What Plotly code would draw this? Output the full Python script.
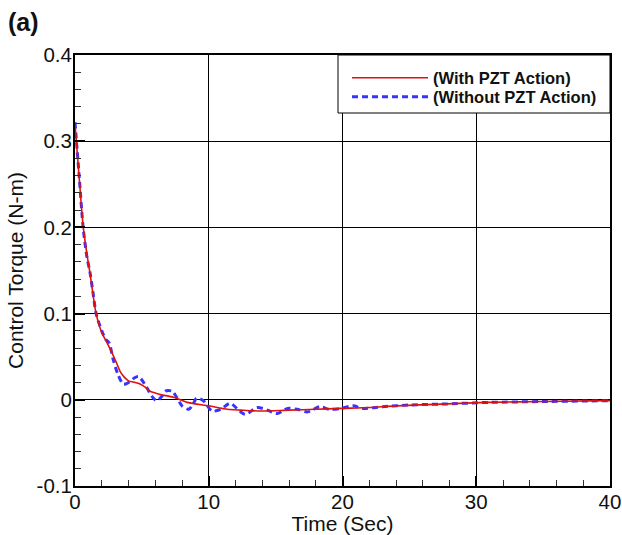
import plotly.graph_objects as go

# ---- data ----
t_with = [0, 0.3, 0.62, 0.9, 1.12, 1.35, 1.58, 2.0, 2.4, 2.75, 3.1, 3.4, 3.7, 4.0, 4.5, 4.9,
          5.3, 5.6, 6.0, 6.4, 7.35, 8.4, 10, 11.4, 12.4, 13.9, 16, 18, 19.9, 22, 24, 27.4,
          30.9, 35, 40]
v_with = [0.320, 0.260, 0.200, 0.168, 0.147, 0.122, 0.100, 0.078, 0.066, 0.055, 0.043, 0.032,
          0.026, 0.022, 0.020, 0.018, 0.014, 0.010, 0.008, 0.006, 0.003, -0.003, -0.007,
          -0.011, -0.012, -0.013, -0.012, -0.011, -0.010, -0.009, -0.007, -0.005, -0.003,
          -0.002, -0.001]

t_without = [0, 0.3, 0.62, 0.9, 1.12, 1.35, 1.58, 2.0, 2.3, 2.55, 2.85, 3.2, 3.62, 4.0, 4.4,
             4.75, 5.3, 5.75, 6.1, 6.5, 6.75, 7.25, 7.6, 8.0, 8.5, 8.8, 9.1, 9.6, 10.25, 10.9,
             11.6, 12.3, 12.75, 13.6, 14.4, 15.1, 15.9, 16.6, 17.4, 18.3, 19.0, 19.9, 20.8,
             21.5, 23, 25, 27.4, 31, 35, 40]
v_without = [0.322, 0.262, 0.198, 0.165, 0.148, 0.124, 0.100, 0.080, 0.070, 0.066, 0.047,
             0.030, 0.018, 0.020, 0.025, 0.027, 0.016, 0.004, -0.001, 0.004, 0.010, 0.010,
             0.003, -0.007, -0.011, -0.006, 0.002, -0.001, -0.013, -0.011, -0.004, -0.013,
             -0.017, -0.009, -0.012, -0.016, -0.010, -0.011, -0.014, -0.008, -0.011, -0.010,
             -0.007, -0.010, -0.008, -0.006, -0.005, -0.003, -0.002, -0.001]

x_tick_vals = [0, 10, 20, 30, 40]
x_tick_text = ["0", "10", "20", "30", "40"]
y_tick_vals = [-0.1, 0, 0.1, 0.2, 0.3, 0.4]
y_tick_text = ["-0.1", "0", "0.1", "0.2", "0.3", "0.4"]

series_names = ["(With PZT Action)", "(Without PZT Action)"]
x_title = "Time (Sec)"
y_title = "Control Torque (N-m)"
panel_label = "(a)"

FONT = "Liberation Sans, Arial, sans-serif"
LEG_FONT = dict(family=FONT, size=16.5, color="#111", weight="bold")

fig = go.Figure()
fig.add_trace(go.Scatter(
    x=t_without, y=v_without, mode="lines", name=series_names[1], legend="legend2",
    line=dict(color="#3535ff", width=3, dash="6px,4px", shape="spline", smoothing=0.8),
))
fig.add_trace(go.Scatter(
    x=t_with, y=v_with, mode="lines", name=series_names[0], legend="legend",
    line=dict(color="#e01010", width=1.6, shape="spline", smoothing=0.8),
))

axis_common = dict(
    showline=True, linecolor="black", linewidth=2, mirror=True,
    showgrid=True, gridcolor="black", gridwidth=1,
    zeroline=False, automargin=False,
    ticks="inside", ticklen=10, tickwidth=2, tickcolor="black",
    tickfont=dict(family=FONT, size=20.5, color="#111"),
)

fig.update_xaxes(
    range=[0, 40], tickmode="array", tickvals=x_tick_vals, ticktext=x_tick_text,
    ticklabelstandoff=-4, ticklabeloverflow="allow",
    minor=dict(dtick=2, tick0=0, ticks="inside", ticklen=6, tickwidth=1, tickcolor="#333",
               showgrid=False),
    title=dict(text=x_title, font=dict(family=FONT, size=21, color="#111"), standoff=0),
    **axis_common,
)
fig.update_yaxes(
    range=[-0.1, 0.4], tickmode="array", tickvals=y_tick_vals, ticktext=y_tick_text,
    ticklabelstandoff=-3,
    minor=dict(dtick=0.02, tick0=0, ticks="inside", ticklen=6, tickwidth=1, tickcolor="#333",
               showgrid=False),
    title=dict(text=y_title, font=dict(family=FONT, size=21, color="#111"), standoff=7),
    **axis_common,
)

# legend box (white, black border) above gridlines
fig.add_shape(type="rect", xref="paper", yref="paper",
              x0=(338 - 75) / 535, x1=1, y0=(486 - 113) / 431, y1=1,
              fillcolor="white", line=dict(color="black", width=1), layer="above")

leg_common = dict(xanchor="left", yanchor="middle", bgcolor="rgba(0,0,0,0)", borderwidth=0,
                  itemwidth=76, font=LEG_FONT)

fig.update_layout(
    width=622, height=535,
    margin=dict(l=75, r=12, t=55, b=49),
    paper_bgcolor="white", plot_bgcolor="white",
    showlegend=True,
    legend=dict(x=(347 - 75) / 535, y=(486 - 78) / 431, **leg_common),
    legend2=dict(x=(347 - 75) / 535, y=(486 - 97) / 431, **leg_common),
    title=dict(text=panel_label, x=8 / 622, xanchor="left", xref="container",
               y=1 - 22 / 535, yanchor="middle", yref="container",
               font=dict(family=FONT, size=25, color="#111", weight="bold")),
)

fig.write_html(
    "out.html",
    config={"displayModeBar": False},
    post_script="document.body.style.margin='0';document.body.style.overflow='hidden';",
)
